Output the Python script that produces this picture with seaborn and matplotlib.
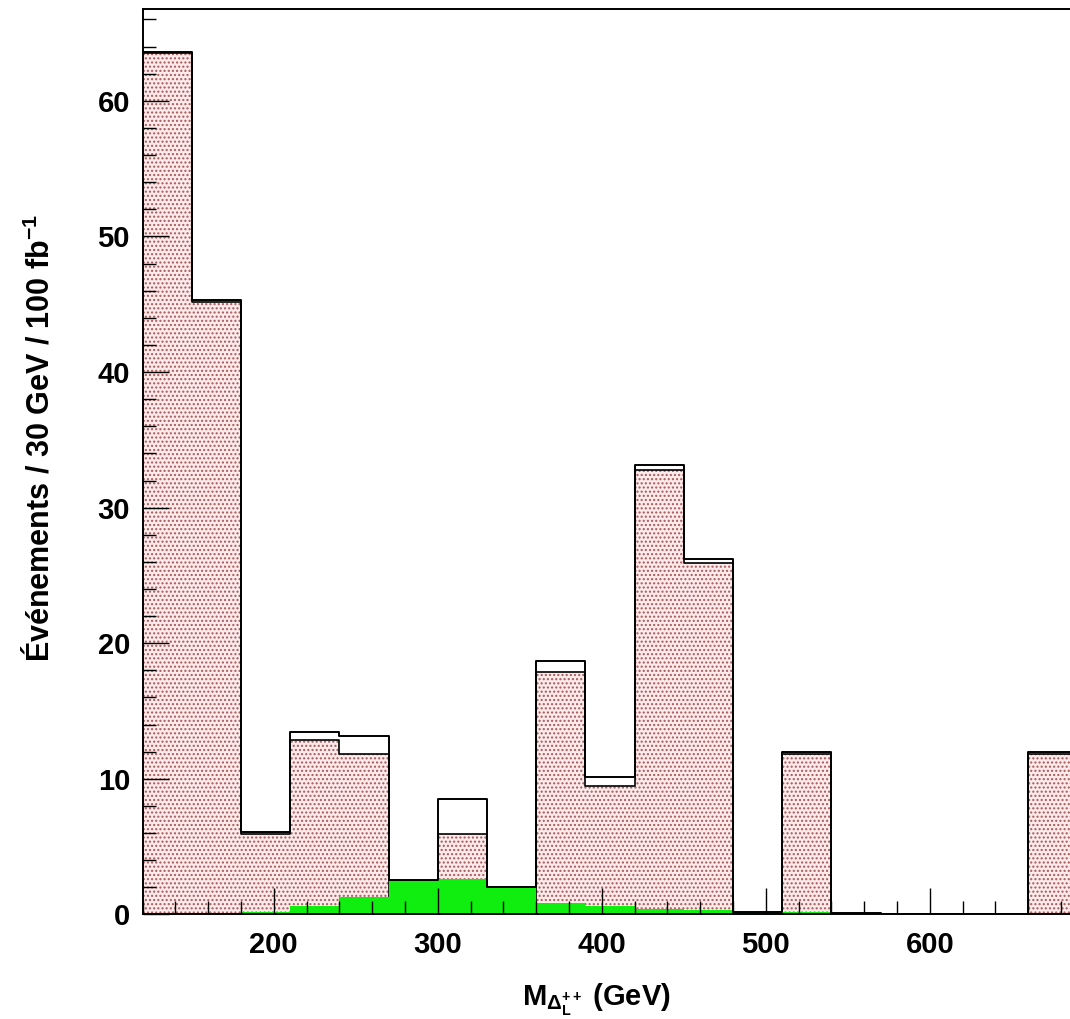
import matplotlib
matplotlib.use("Agg")
import numpy as np
import pandas as pd
import matplotlib.pyplot as plt
from matplotlib.ticker import MultipleLocator
import seaborn as sns

# 30 GeV bins, M(Delta_L^++) from 120 to 690 GeV
bin_edges = [120, 150, 180, 210, 240, 270, 300, 330, 360, 390,
             420, 450, 480, 510, 540, 570, 600, 630, 660, 690]
# signal (dotted pink) and background (green), events / 30 GeV / 100 fb-1
signal = [63.5, 45.2, 5.9, 12.85, 11.85, 0.0, 5.9, 0.0, 17.85, 9.5,
          32.75, 25.9, 0.0, 11.85, 0.0, 0.0, 0.0, 0.0, 11.85]
background = [0.12, 0.12, 0.15, 0.6, 1.3, 2.55, 2.65, 2.05, 0.85, 0.65,
              0.4, 0.3, 0.2, 0.15, 0.1, 0.0, 0.0, 0.0, 0.1]
x_ticks = [200, 300, 400, 500, 600]
y_ticks = [0, 10, 20, 30, 40, 50, 60]

sns.set_theme(style="ticks")
plt.rcParams["font.family"] = ["Liberation Sans", "DejaVu Sans"]
plt.rcParams["font.weight"] = "bold"
plt.rcParams["text.color"] = "black"
plt.rcParams["xtick.color"] = "black"
plt.rcParams["ytick.color"] = "black"
plt.rcParams["xtick.labelcolor"] = "black"
plt.rcParams["ytick.labelcolor"] = "black"
plt.rcParams["mathtext.fontset"] = "custom"
plt.rcParams["mathtext.rm"] = "Liberation Sans:bold"
plt.rcParams["mathtext.it"] = "Liberation Sans:bold"
plt.rcParams["mathtext.bf"] = "Liberation Sans:bold"
plt.rcParams["hatch.linewidth"] = 1.0

PINK = "#fdeaea"
DOTS = "#a85858"
GREEN = "#10ee10"

edges = np.array(bin_edges)
df = pd.DataFrame({
    "mass": (edges[:-1] + edges[1:]) / 2,
    "signal": signal,
    "background": background,
})
df["total"] = df["signal"] + df["background"]

fig = plt.figure(figsize=(10.7, 10.19), dpi=100)
ax = fig.add_axes([0.1332, 0.1026, 0.8737, 0.8883])

# signal: dotted pink fill with its own outline
sns.histplot(data=df, x="mass", weights="signal", bins=bin_edges, element="step",
             fill=True, facecolor=PINK, edgecolor=DOTS, hatch="....", linewidth=0,
             ax=ax, zorder=1)
sns.histplot(data=df, x="mass", weights="signal", bins=bin_edges, element="step",
             fill=False, color="black", linewidth=1.2, ax=ax, zorder=1.1)
# background: solid green, drawn over the signal
sns.histplot(data=df, x="mass", weights="background", bins=bin_edges, element="step",
             fill=True, facecolor=GREEN, edgecolor=GREEN, linewidth=0, ax=ax, zorder=1.2)
# total outline
sns.histplot(data=df, x="mass", weights="total", bins=bin_edges, element="step",
             fill=False, color="black", linewidth=1.4, ax=ax, zorder=1.3)

ax.set_xlim(120, 690)
ax.set_ylim(0, 66.75)
ax.set_xlabel("")
ax.set_ylabel("")
ax.set_xticks(x_ticks)
ax.set_yticks(y_ticks)
ax.xaxis.set_minor_locator(MultipleLocator(20))
ax.yaxis.set_minor_locator(MultipleLocator(2))
ax.tick_params(which="both", direction="in", top=False, right=False, width=1.0,
               color="black", labelcolor="black", labelsize=21)
ax.tick_params(which="major", length=19)
ax.tick_params(which="minor", length=9.5)
ax.tick_params(axis="x", pad=12)
ax.tick_params(axis="y", pad=9)
for lab in ax.get_xticklabels() + ax.get_yticklabels():
    lab.set_fontweight("bold")
for side in ["left", "bottom", "top", "right"]:
    ax.spines[side].set_linewidth(1.4)
    ax.spines[side].set_color("black")
ax.set_axisbelow(False)

fig.text(40 / 1070, 1 - 437.5 / 1019, "Événements / 30 GeV / 100 fb$^{-1}$",
         rotation=90, ha="center", va="center", fontsize=22, fontweight="bold",
         color="black")
fig.text(596 / 1070, 1 - 1006 / 1019, r"M$_{\Delta_{L}^{++}}$ (GeV)",
         ha="center", va="baseline", fontsize=21, fontweight="bold", color="black")

fig.savefig("out.png", dpi=100)
